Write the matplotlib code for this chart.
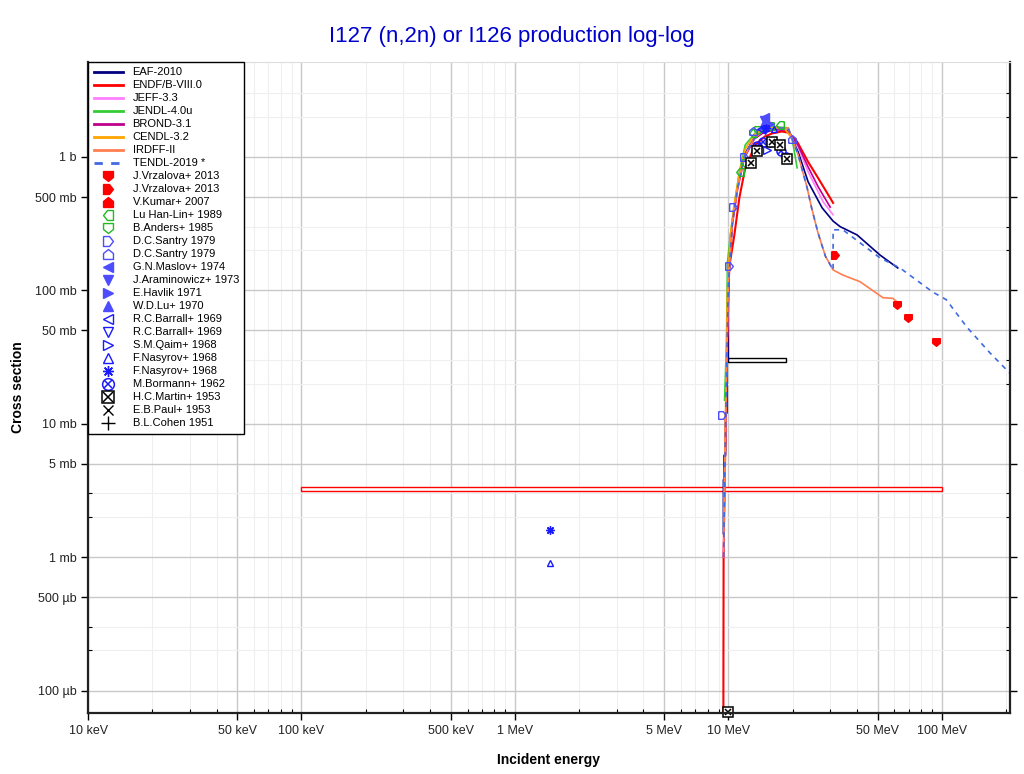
import matplotlib
matplotlib.use("Agg")
import matplotlib.pyplot as plt
from matplotlib.ticker import FixedLocator, LogLocator, NullFormatter
from matplotlib.legend_handler import HandlerTuple
import numpy as np

plt.rcParams['font.family'] = ['Liberation Sans', 'DejaVu Sans']

# energies in MeV, cross sections in barn
eaf_e = [9.48, 9.48, 9.55, 9.55, 9.7, 9.7, 9.85, 9.85, 10.0, 10.0, 10.2, 10.44, 11.02, 11.88, 13.23,
         14.42, 16.0, 17.5, 19.07, 21.23, 23.65, 27.5, 30.96, 33.4, 40.1, 51.3, 62.2]
eaf_s = [1.5e-3, 3.8e-3, 3.8e-3, 5.8e-3, 5.8e-3, 0.012, 0.012, 0.03, 0.03, 0.1, 0.2, 0.33, 0.586, 1.035, 1.39,
         1.51, 1.6, 1.63, 1.59, 1.09, 0.65, 0.415, 0.33, 0.30, 0.26, 0.184, 0.147]

endf_e = [9.47, 9.48, 9.5, 9.6, 9.8, 9.9, 10.1, 10.67, 11.26, 12.0, 13.37, 14.8, 16.05, 17.8, 19.07, 21.0,
          23.65, 26.3, 30.96]
endf_s = [1e-6, 1e-4, 1e-3, 3.2e-3, 0.02, 0.05, 0.15, 0.26, 0.493, 0.827, 1.23, 1.42, 1.5, 1.55, 1.52, 1.30,
          0.917, 0.697, 0.452]

jeff_e = [9.5, 9.6, 9.8, 10.0, 10.44, 11.02, 11.88, 13.23, 14.42, 16.5, 19.07, 21.23, 23.65, 27.8, 30.96]
jeff_s = [1e-3, 4e-3, 0.025, 0.12, 0.32, 0.58, 1.0, 1.38, 1.52, 1.62, 1.59, 1.19, 0.772, 0.46, 0.368]

jendl_e = [9.6, 9.8, 9.9, 10.22, 10.67, 11.26, 12.0, 13.37, 14.89, 16.5, 19.07, 20.0, 21.0]
jendl_s = [0.015, 0.04, 0.16, 0.26, 0.437, 0.772, 1.23, 1.51, 1.65, 1.68, 1.65, 1.3, 0.827]

brond_e = [9.5, 9.6, 9.8, 10.0, 10.44, 11.02, 11.88, 13.23, 14.42, 16.5, 19.07, 21.23, 23.65, 26.3, 30.0]
brond_s = [1e-3, 3.5e-3, 0.022, 0.11, 0.31, 0.56, 0.98, 1.36, 1.5, 1.6, 1.57, 1.22, 0.84, 0.6, 0.42]

cendl_e = [9.55, 9.7, 9.9, 10.2, 10.6, 11.2, 12.0, 13.3, 14.8, 16.5, 18.5, 20.0]
cendl_s = [2e-3, 0.012, 0.1, 0.25, 0.42, 0.72, 1.15, 1.48, 1.62, 1.66, 1.6, 1.35]

irdff_e = [9.5, 9.6, 9.8, 10.0, 10.44, 11.02, 11.88, 13.23, 14.42, 16.5, 19.07, 21.23, 23.4, 24.5, 26.3,
           28.5, 30.96, 34.4, 41.4, 53.0, 59.0, 61.6]
irdff_s = [1e-3, 3.5e-3, 0.024, 0.11, 0.32, 0.57, 1.0, 1.38, 1.54, 1.64, 1.65, 1.035, 0.586, 0.42, 0.27,
           0.18, 0.142, 0.13, 0.116, 0.088, 0.087, 0.082]

tendl_e = [9.5, 9.6, 9.8, 10.0, 10.44, 11.02, 11.88, 13.23, 14.42, 16.5, 19.07, 21.23, 23.4, 24.5, 26.3,
           28.5, 30.96, 30.96, 34.4, 51.3, 63.7, 90.7, 105.0, 131.0, 168.0, 208.0]
tendl_s = [1e-3, 3.5e-3, 0.024, 0.11, 0.32, 0.57, 1.0, 1.38, 1.54, 1.64, 1.65, 1.035, 0.586, 0.42, 0.27,
           0.18, 0.142, 0.284, 0.284, 0.175, 0.147, 0.097, 0.085, 0.053, 0.034, 0.024]

# experimental data
vrz1_e = [61.6, 69.3, 93.8]
vrz1_s = [0.078, 0.062, 0.041]
vrz2_e = [31.6]
vrz2_s = [0.184]
kumar_e = [0.1, 100.0]
kumar_s = [3.15e-3, 3.37e-3]
lu_e = [11.4, 13.1, 15.7, 17.5]
lu_s = [0.77, 1.51, 1.7, 1.74]
anders_e = [12.0, 13.8]
anders_s = [0.9, 1.59]
santry1_e = [9.37, 10.1, 10.55, 11.9]
santry1_s = [0.0117, 0.153, 0.42, 1.0]
santry2_e = [13.0, 19.8]
santry2_s = [1.55, 1.35]
maslov_e = [14.9]
maslov_s = [2.0]
aram_e = [14.7]
aram_s = [1.9]
havlik_e = [15.6]
havlik_s = [1.75]
wdlu_e = [14.5]
wdlu_s = [1.72]
barr1_e = [14.2]
barr1_s = [1.62]
barr2_e = [14.8]
barr2_s = [1.58]
qaim_e = [15.2]
qaim_s = [1.13]
nas_tri_e = [1.46, 16.3]
nas_tri_s = [0.91e-3, 1.62]
nas_ast_e = [1.46, 15.0]
nas_ast_s = [1.61e-3, 1.66]
bormann_e = [13.66, 14.57, 15.7, 17.7, 18.66]
bormann_s = [1.21, 1.30, 1.30, 1.11, 1.0]
martin_e = [12.81, 13.66, 16.05, 17.5, 18.87, 10.0]
martin_s = [0.90, 1.11, 1.30, 1.23, 0.966, 6.9e-5]
cohen_e = [10.0, 18.7]
cohen_s = [0.0291, 0.0312]

x_ticks = [0.01, 0.05, 0.1, 0.5, 1, 5, 10, 50, 100]
x_labels = ['10 keV', '50 keV', '100 keV', '500 keV', '1 MeV', '5 MeV', '10 MeV', '50 MeV', '100 MeV']
y_ticks = [1e-4, 5e-4, 1e-3, 5e-3, 1e-2, 5e-2, 0.1, 0.5, 1]
y_labels = ['100 µb', '500 µb', '1 mb', '5 mb', '10 mb', '50 mb', '100 mb', '500 mb', '1 b']

down_house = [(-1, 1), (1, 1), (1, -0.2), (0, -1), (-1, -0.2), (-1, 1)]
right_house = [(-1, 1), (0.2, 1), (1, 0), (0.2, -1), (-1, -1), (-1, 1)]
up_house = [(-1, -1), (1, -1), (1, 0.2), (0, 1), (-1, 0.2), (-1, -1)]
left_house = [(1, 1), (-0.2, 1), (-1, 0), (-0.2, -1), (1, -1), (1, 1)]

fig = plt.figure(figsize=(10.24, 7.74), dpi=100)
ax = fig.add_axes([0.086, 0.079, 0.9, 0.841])
ax.set_xscale('log')
ax.set_yscale('log')
ax.set_xlim(0.01, 208)
ax.set_ylim(6.8e-5, 5.15)

handles = []
labels = []

def line(e, s, color, label, ls='-', lw=1.2):
    h, = ax.plot(e, s, color=color, ls=ls, lw=lw)
    handles.append(h)
    labels.append(label)

line(eaf_e, eaf_s, '#000080', 'EAF-2010')
line(endf_e, endf_s, '#ff0000', 'ENDF/B-VIII.0', lw=1.5)
line(jeff_e, jeff_s, '#ff80ff', 'JEFF-3.3')
line(jendl_e, jendl_s, '#33cc33', 'JENDL-4.0u')
line(brond_e, brond_s, '#c0008c', 'BROND-3.1')
line(cendl_e, cendl_s, '#ffa500', 'CENDL-3.2')
line(irdff_e, irdff_s, '#ff7f50', 'IRDFF-II')
line(tendl_e, tendl_s, '#4169e1', 'TENDL-2019 *', ls=(0, (3, 3)))

def points(e, s, marker, color, label, filled=True, ms=5.5, mew=1.0):
    h, = ax.plot(e, s, ls='none', marker=marker, ms=ms, mew=mew, color=color,
                 mfc=color if filled else 'none', mec=color)
    handles.append(h)
    labels.append(label)
    return h

points(vrz1_e, vrz1_s, down_house, '#ff0000', 'J.Vrzalova+ 2013')
points(vrz2_e, vrz2_s, right_house, '#ff0000', 'J.Vrzalova+ 2013')
# V.Kumar: single value with wide energy bin drawn as a box
ax.fill([kumar_e[0], kumar_e[1], kumar_e[1], kumar_e[0]],
        [kumar_s[0], kumar_s[0], kumar_s[1], kumar_s[1]], facecolor='white', edgecolor='#ff0000', lw=1.0)
points([], [], up_house, '#ff0000', 'V.Kumar+ 2007')
points(lu_e, lu_s, left_house, '#22bb22', 'Lu Han-Lin+ 1989', filled=False)
points(anders_e, anders_s, down_house, '#22bb22', 'B.Anders+ 1985', filled=False)
points(santry1_e, santry1_s, right_house, '#4d4dff', 'D.C.Santry 1979', filled=False)
points(santry2_e, santry2_s, up_house, '#4d4dff', 'D.C.Santry 1979', filled=False)
points(maslov_e, maslov_s, '<', '#4d4dff', 'G.N.Maslov+ 1974')
points(aram_e, aram_s, 'v', '#4d4dff', 'J.Araminowicz+ 1973')
points(havlik_e, havlik_s, '>', '#4d4dff', 'E.Havlik 1971')
points(wdlu_e, wdlu_s, '^', '#4d4dff', 'W.D.Lu+ 1970')
points(barr1_e, barr1_s, '<', '#1a1aff', 'R.C.Barrall+ 1969', filled=False)
points(barr2_e, barr2_s, 'v', '#1a1aff', 'R.C.Barrall+ 1969', filled=False)
points(qaim_e, qaim_s, '>', '#1a1aff', 'S.M.Qaim+ 1968', filled=False)
points(nas_tri_e, nas_tri_s, '^', '#1a1aff', 'F.Nasyrov+ 1968', filled=False, ms=5)
points(nas_ast_e, nas_ast_s, (8, 2, 0), '#1a1aff', 'F.Nasyrov+ 1968', ms=6)

b1, = ax.plot(bormann_e, bormann_s, ls='none', marker='o', ms=6.5, mfc='none', mec='#1a1aff', mew=1.1)
b2, = ax.plot(bormann_e, bormann_s, ls='none', marker='x', ms=4, color='#1a1aff', mew=1.1)
handles.append((b1, b2))
labels.append('M.Bormann+ 1962')
m1, = ax.plot(martin_e, martin_s, ls='none', marker='s', ms=6.5, mfc='white', mec='black', mew=1.1, clip_on=False)
m2, = ax.plot(martin_e, martin_s, ls='none', marker='x', ms=5, color='black', mew=1.1, clip_on=False)
handles.append((m1, m2))
labels.append('H.C.Martin+ 1953')
points([], [], 'x', 'black', 'E.B.Paul+ 1953', ms=6)
ax.fill([cohen_e[0], cohen_e[1], cohen_e[1], cohen_e[0]],
        [cohen_s[0], cohen_s[0], cohen_s[1], cohen_s[1]], facecolor='white', edgecolor='black', lw=1.0)
points([], [], '+', 'black', 'B.L.Cohen 1951', ms=8)

# axes styling
ax.xaxis.set_major_locator(FixedLocator(x_ticks))
ax.set_xticklabels(x_labels)
ax.xaxis.set_minor_locator(LogLocator(base=10, subs=np.arange(2, 10)))
ax.xaxis.set_minor_formatter(NullFormatter())
ax.yaxis.set_major_locator(FixedLocator(y_ticks))
ax.set_yticklabels(y_labels)
ax.yaxis.set_minor_locator(LogLocator(base=10, subs=[2, 3]))
ax.yaxis.set_minor_formatter(NullFormatter())
ax.tick_params(which='major', direction='out', length=5, width=1, labelsize=9, labelcolor='#222222',
               right=True, top=False)
ax.tick_params(which='minor', direction='in', length=3, width=0.8, right=True)
ax.grid(True, which='major', color='#c8c8c8', lw=1.0)
ax.grid(True, which='minor', color='#efefef', lw=0.8)
ax.set_axisbelow(True)
for side in ['left', 'bottom', 'right']:
    ax.spines[side].set_linewidth(1.6)
    ax.spines[side].set_color('#222222')
ax.spines['top'].set_color('#dddddd')

ax.set_xlabel('Incident energy', fontsize=10, fontweight='bold', labelpad=12)
ax.set_ylabel('Cross section', fontsize=10, fontweight='bold', labelpad=10)
ax.yaxis.set_label_coords(-0.068, 0.5)
fig.text(0.5, 0.953, 'I127 (n,2n) or I126 production log-log', ha='center', va='center',
         fontsize=16, color='#0000cc')

leg = ax.legend(handles, labels, loc='upper left', borderaxespad=0, fontsize=8, frameon=True,
                fancybox=False, edgecolor='black', framealpha=1, labelspacing=0.27,
                handlelength=2.6, handletextpad=0.9, borderpad=0.5, markerscale=1.3,
                handler_map={tuple: HandlerTuple(ndivide=1, pad=0)})
leg.get_frame().set_linewidth(1.0)
for h in leg.get_lines():
    h.set_linewidth(2.0)

fig.savefig('out.png', dpi=100)
